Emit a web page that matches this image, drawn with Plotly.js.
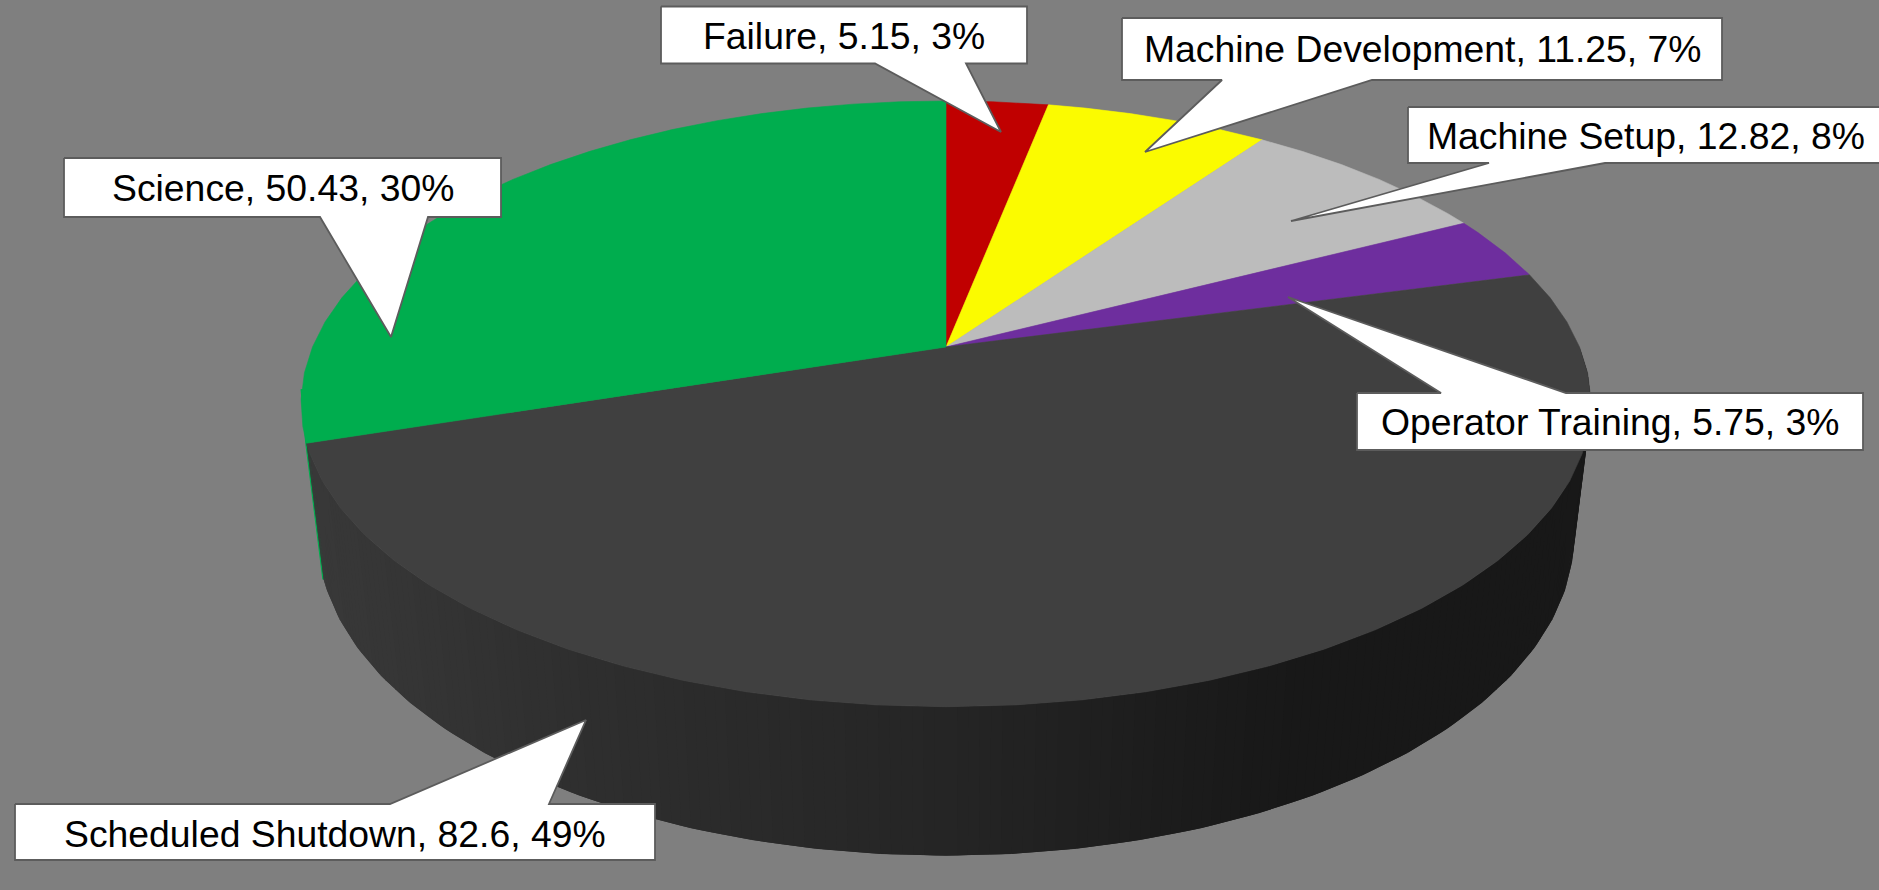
<!DOCTYPE html>
<html>
<head>
<meta charset="utf-8">
<script src="https://cdn.plot.ly/plotly-3.0.1.min.js"></script>
<style>html,body{margin:0;padding:0;background:#7f7f7f;overflow:hidden}#chart{width:1879px;height:890px}</style>
</head>
<body>
<div id="chart"></div>
<script>
// ---- data ----
const categories = ["Failure", "Machine Development", "Machine Setup", "Operator Training", "Scheduled Shutdown", "Science"];
const values = [5.15, 11.25, 12.82, 5.75, 82.6, 50.43];
const percents = [3, 7, 8, 3, 49, 30];
const colors = ["#c00000", "#fbfb00", "#bcbcbc", "#6e2e9e", "#404040", "#00ad4e"];

// ---- callout geometry: [left, right, top, bottom], pointer base [x1, x2], pointer tip [x, y] ----
const boxes = [[661, 1027, 6.5, 63.5], [1122, 1722, 18, 80], [1408, 1884, 107, 163], [1357, 1863, 393, 450], [15, 655, 804, 860], [64, 501, 158, 217]];
const baseXs = [[875, 966], [1222, 1372], [1489, 1605], [1441, 1566], [390, 549], [320, 428]];
const tips = [[1001, 132], [1145, 152], [1291, 221], [1288, 297], [586, 720], [391, 337]];
const baseOnBottom = [true, true, true, false, false, true];
const textShiftY = [1, 0, 1, 0, 2, 0];

// ---- 3D view of the disc ----
const view = {cx: 946, cy: 347, a: 633.5, b: 292.2, k: 0.1877, m: 0.0259, c: 134.2};
const facetStep = 5;
const bandsPerFacet = 6;
const wallShadeX = [324, 600, 946, 1200, 1300];
const wallShadeGrey = [0x38, 0x2e, 0x25, 0x1b, 0x18];

function project(deg, z) {
  const t = deg * Math.PI / 180, u = Math.sin(t), v = Math.cos(t);
  const w = 1 + view.k * v + view.m * z;
  return [view.cx + view.a * u / w, view.cy - (view.b * v - view.c * z) / w];
}
function arcAngles(from, to) {
  const out = [from];
  for (let d = Math.ceil(from / facetStep + 1e-9) * facetStep; d < to - 1e-9; d += facetStep) out.push(d);
  out.push(to);
  return out;
}
function wallGrey(x) {
  if (x <= wallShadeX[0]) return wallShadeGrey[0];
  for (let i = 1; i < wallShadeX.length; i++) {
    if (x <= wallShadeX[i]) {
      const f = (x - wallShadeX[i - 1]) / (wallShadeX[i] - wallShadeX[i - 1]);
      return wallShadeGrey[i - 1] + f * (wallShadeGrey[i] - wallShadeGrey[i - 1]);
    }
  }
  return wallShadeGrey[wallShadeGrey.length - 1];
}
function poly(pts, fill, lineColor, lineWidth) {
  return {
    type: "scatter", mode: "lines", fill: "toself", fillcolor: fill,
    x: pts.map(p => p[0]), y: pts.map(p => p[1]),
    line: {color: lineColor || fill, width: lineWidth === undefined ? 0.6 : lineWidth},
    hoverinfo: "skip", showlegend: false
  };
}
function lerp(p, q, f) { return [p[0] + (q[0] - p[0]) * f, p[1] + (q[1] - p[1]) * f]; }

const total = values.reduce((s, v) => s + v, 0);
const starts = [];
let running = 0;
values.forEach(v => { starts.push(running / total * 360); running += v; });
const ends = starts.map((s, i) => s + values[i] / total * 360);

const traces = [];

// side wall of the Science slice, seen only as a sliver on the left
const sci = categories.indexOf("Science");
const sciStart = starts[sci];
const sciPts = [project(sciStart, 0), project(sciStart + 10, 0), project(sciStart + 10, 1), project(sciStart, 1)];
traces.push(poly(sciPts.concat([sciPts[0]]), colors[sci], colors[sci], 2.6));

// side wall of the Scheduled Shutdown slice: faceted rim, shaded in narrow bands
const wallAngles = arcAngles(90, sciStart);
const rimTop = [], rimBottom = [];
for (let i = 0; i < wallAngles.length - 1; i++) {
  const a = wallAngles[i], b = wallAngles[i + 1];
  for (let s = 0; s < bandsPerFacet; s++) {
    const f = s / bandsPerFacet;
    rimTop.push(lerp(project(a, 0), project(b, 0), f));
    rimBottom.push(lerp(project(a, 1), project(b, 1), f));
  }
}
rimTop.push(project(sciStart, 0));
rimBottom.push(project(sciStart, 1));
for (let i = 0; i < rimTop.length - 1; i++) {
  const j = Math.min(i + 2, rimTop.length - 1);   // overlap the next band so no seam shows
  const g = Math.round(wallGrey((rimTop[i][0] + rimBottom[i][0]) / 2));
  const col = "rgb(" + g + "," + g + "," + g + ")";
  traces.push(poly([rimTop[i], rimTop[j], rimBottom[j], rimBottom[i], rimTop[i]], col, col, 0));
}

// top surface, drawn through the slices
values.forEach((v, i) => {
  const pts = [[view.cx, view.cy]];
  arcAngles(starts[i], ends[i]).forEach(d => pts.push(project(d, 0)));
  pts.push([view.cx, view.cy]);
  traces.push(poly(pts, colors[i]));
});

// callouts
const annotations = [];
categories.forEach((cat, i) => {
  const [l, r, t, b] = boxes[i];
  const [bx1, bx2] = baseXs[i];
  const tip = tips[i];
  const pts = baseOnBottom[i]
    ? [[l, t], [r, t], [r, b], [bx2, b], tip, [bx1, b], [l, b], [l, t]]
    : [[l, t], [bx1, t], tip, [bx2, t], [r, t], [r, b], [l, b], [l, t]];
  traces.push(poly(pts, "#ffffff", "#5c5c5c", 1.8));
  annotations.push({
    xref: "x", yref: "y", x: (l + r) / 2, y: (t + b) / 2 + textShiftY[i],
    text: cat + ", " + values[i] + ", " + percents[i] + "%",
    showarrow: false, xanchor: "center", yanchor: "middle",
    font: {family: "Liberation Sans, Arial, sans-serif", size: 37.33, color: "#000000"}
  });
});

const layout = {
  width: 1879, height: 890,
  margin: {l: 0, r: 0, t: 0, b: 0},
  paper_bgcolor: "#7f7f7f", plot_bgcolor: "#7f7f7f",
  xaxis: {range: [0, 1879], visible: false, fixedrange: true},
  yaxis: {range: [890, 0], visible: false, fixedrange: true},
  showlegend: false,
  annotations: annotations
};
Plotly.newPlot("chart", traces, layout, {displayModeBar: false, staticPlot: true});
</script>
</body>
</html>
